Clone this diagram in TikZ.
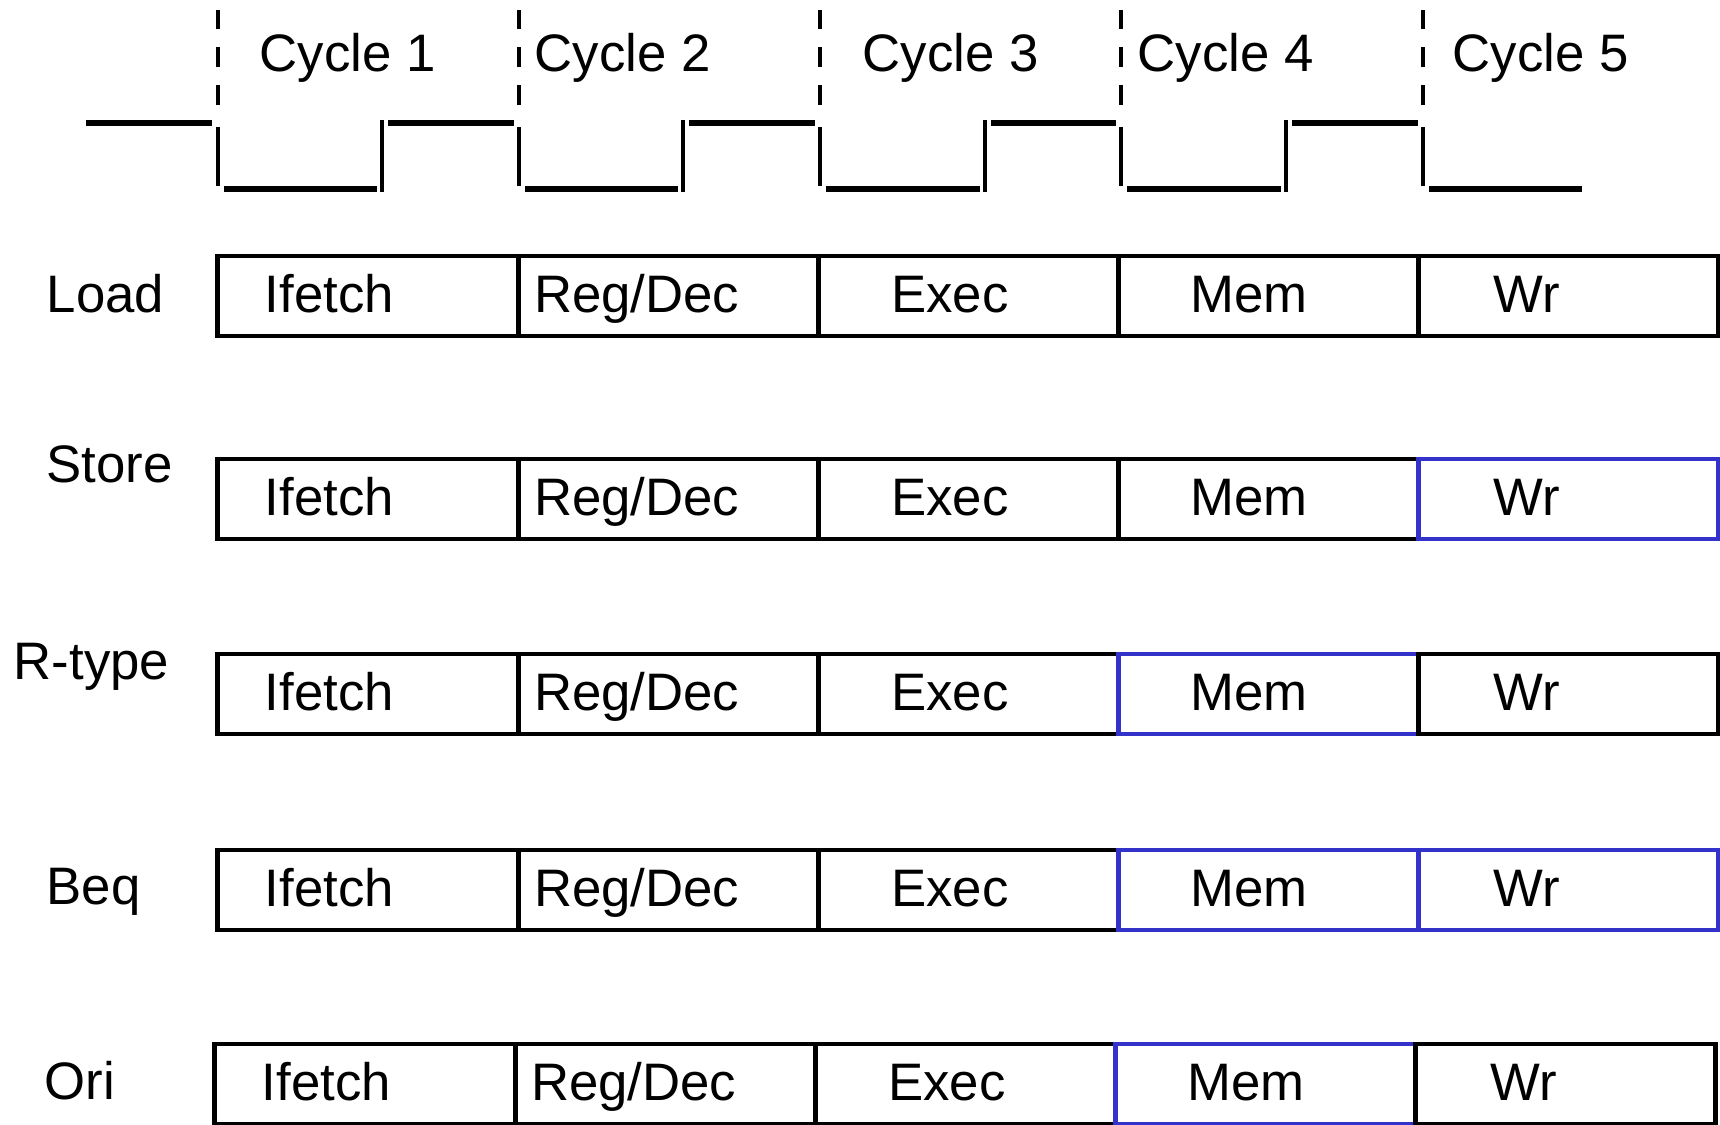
\documentclass[tikz,border=0pt]{standalone}
\usepackage{fontspec}
\setmainfont{Liberation Sans}
\usetikzlibrary{positioning}

\definecolor{stageblue}{RGB}{51,51,204}

\tikzset{
	lbl/.style={anchor=base west, inner sep=0pt, font=\fontsize{15}{18}\selectfont},
	cell/.style={draw, line width=1.4pt, minimum width=3cm, minimum height=0.8cm,
		text width=3cm, align=left, inner sep=0pt, outer sep=0pt,
		text height=0.44cm, text depth=0.12cm, font=\fontsize{15}{18}\selectfont},
	hot/.style={draw=stageblue},
	clk/.style={line width=1.7pt},
	clkedge/.style={line width=1.3pt},
	tick/.style={line width=1.3pt, dash pattern=on 5.7pt off 5.1pt},
}

\begin{document}
\begin{tikzpicture}[x=0.01cm, y=-0.01cm]
			\useasboundingbox (0,0) rectangle (1720,1125);
			% clock
			\draw [tick] (218,105) -- (218,10);
			\draw [tick] (519,105) -- (519,10);
			\draw [tick] (820,105) -- (820,10);
			\draw [tick] (1121,105) -- (1121,10);
			\draw [tick] (1423,105) -- (1423,10);
			\draw [clk] (86,123) -- (212,123);
			\draw [clkedge] (218,127) -- (218,186);
			\draw [clk] (224,189) -- (377,189);
			\draw [clkedge] (382,120) -- (382,192);
			\draw [clk] (388,123) -- (514,123);
			\draw [clkedge] (519,127) -- (519,186);
			\draw [clk] (525,189) -- (678,189);
			\draw [clkedge] (683,120) -- (683,192);
			\draw [clk] (689,123) -- (815,123);
			\draw [clkedge] (820,127) -- (820,186);
			\draw [clk] (826,189) -- (980,189);
			\draw [clkedge] (985,120) -- (985,192);
			\draw [clk] (991,123) -- (1116,123);
			\draw [clkedge] (1121,127) -- (1121,186);
			\draw [clk] (1127,189) -- (1281,189);
			\draw [clkedge] (1286,120) -- (1286,192);
			\draw [clk] (1292,123) -- (1418,123);
			\draw [clkedge] (1423,127) -- (1423,186);
			\draw [clk] (1429,189) -- (1582,189);
			\node [lbl] (cyc1) at (259,72) {Cycle 1};
			\node [lbl] (cyc2) at (534,72) {Cycle 2};
			\node [lbl] (cyc3) at (862,72) {Cycle 3};
			\node [lbl] (cyc4) at (1137,72) {Cycle 4};
			\node [lbl] (cyc5) at (1452,72) {Cycle 5};
			% Load
			\node [lbl] (load) at (46,313) {Load};
			\node [cell] (ld1) at (368,296) {\hspace*{4.7mm}Ifetch};
			\node [cell, right=0pt of ld1] (ld2) {\hspace*{1.6mm}Reg/Dec};
			\node [cell, right=0pt of ld2] (ld3) {\hspace*{7.3mm}Exec};
			\node [cell, right=0pt of ld3] (ld4) {\hspace*{7.2mm}Mem};
			\node [cell, right=0pt of ld4] (ld5) {\hspace*{7.5mm}Wr};
			% Store
			\node [lbl] (store) at (46,483) {Store};
			\node [cell] (st1) at (368,499) {\hspace*{4.7mm}Ifetch};
			\node [cell, right=0pt of st1] (st2) {\hspace*{1.6mm}Reg/Dec};
			\node [cell, right=0pt of st2] (st3) {\hspace*{7.3mm}Exec};
			\node [cell, right=0pt of st3] (st4) {\hspace*{7.2mm}Mem};
			\node [cell, hot, right=0pt of st4] (st5) {\hspace*{7.5mm}Wr};
			% R-type
			\node [lbl] (rtype) at (13,680) {R-type};
			\node [cell] (rt1) at (368,694) {\hspace*{4.7mm}Ifetch};
			\node [cell, right=0pt of rt1] (rt2) {\hspace*{1.6mm}Reg/Dec};
			\node [cell, right=0pt of rt2] (rt3) {\hspace*{7.3mm}Exec};
			\node [cell, hot, right=0pt of rt3] (rt4) {\hspace*{7.2mm}Mem};
			\node [cell, right=0pt of rt4] (rt5) {\hspace*{7.5mm}Wr};
			% Beq
			\node [lbl] (beq) at (46,905) {Beq};
			\node [cell] (bq1) at (368,890) {\hspace*{4.7mm}Ifetch};
			\node [cell, right=0pt of bq1] (bq2) {\hspace*{1.6mm}Reg/Dec};
			\node [cell, right=0pt of bq2] (bq3) {\hspace*{7.3mm}Exec};
			\node [cell, hot, right=0pt of bq3] (bq4) {\hspace*{7.2mm}Mem};
			\node [cell, hot, right=0pt of bq4] (bq5) {\hspace*{7.5mm}Wr};
			% Ori
			\node [lbl] (ori) at (44,1100) {Ori};
			\node [cell] (or1) at (365,1084) {\hspace*{4.7mm}Ifetch};
			\node [cell, right=0pt of or1] (or2) {\hspace*{1.6mm}Reg/Dec};
			\node [cell, right=0pt of or2] (or3) {\hspace*{7.3mm}Exec};
			\node [cell, hot, right=0pt of or3] (or4) {\hspace*{7.2mm}Mem};
			\node [cell, right=0pt of or4] (or5) {\hspace*{7.5mm}Wr};
\end{tikzpicture}
\end{document}
